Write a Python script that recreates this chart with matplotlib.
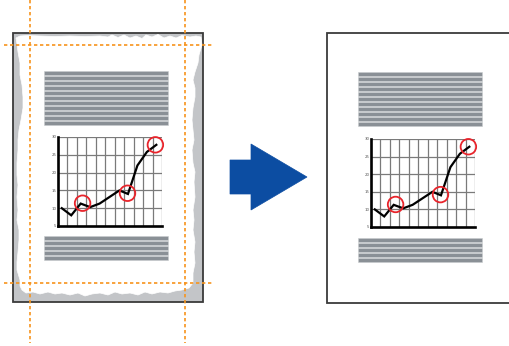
import matplotlib
matplotlib.use("Agg")
import matplotlib.pyplot as plt
from matplotlib.patches import Rectangle, Polygon

# ---- data ----
x_vals = [0.4, 1.4, 2.4, 3.4, 4.4, 6.5, 7.4, 8.4, 9.4, 10.4]
y_vals = [10, 8, 11.3, 10.3, 11.3, 15, 14, 22, 25.8, 27.8]
circle_x = [2.6, 7.35, 10.3]
circle_y = [11.4, 14.2, 27.8]
y_ticks = [5, 10, 15, 20, 25, 30]
y_tick_labels = ["5", "10", "15", "20", "25", "30"]
x_grid = list(range(0, 12))

W, H = 509, 346
fig = plt.figure(figsize=(W / 100, H / 100), dpi=100)
ax = fig.add_axes([0, 0, 1, 1])
ax.set_xlim(0, W)
ax.set_ylim(H, 0)
ax.axis("off")

GRAY_TXT = "#8a9096"
ORANGE = "#f7941d"
BLUE = "#0c4da2"

# ---- left page (torn) ----
ax.add_patch(Rectangle((13, 33), 190, 269, facecolor="#c3c5c8", edgecolor="#3a3a3a", lw=1.3, zorder=1))
torn = [
    # top edge, left -> right
    (16, 38), (20, 36), (28, 35.5), (40, 36), (55, 36.5), (70, 36), (85, 36.5), (100, 36),
    (108, 37), (112, 35), (118, 37.5), (124, 35), (130, 38), (136, 36), (142, 38.5), (146, 35),
    (152, 37), (158, 34.5), (164, 38), (170, 36), (176, 38), (182, 35.5), (190, 37), (196, 36),
    (201, 37),
    # right edge, top -> bottom
    (202, 45), (199, 55), (198, 63), (195, 72), (193, 80), (195, 88), (195, 97), (193, 108),
    (192, 120), (193, 130), (194, 140), (192, 150), (193, 163), (195, 172), (194, 182),
    (195, 197), (193, 210), (194, 220), (193, 230), (195, 242), (194, 252), (195, 263),
    (193, 273), (193, 283), (189, 288),
    # bottom edge, right -> left
    (182, 290), (175, 291), (168, 293), (160, 292), (152, 294), (145, 292), (138, 295),
    (130, 293), (122, 294), (115, 292), (108, 295), (100, 293), (92, 294), (85, 296),
    (78, 293), (70, 295), (62, 293), (55, 294), (48, 292), (40, 294), (33, 292), (26, 293),
    (22, 290), (20, 286),
    # left edge, bottom -> top
    (20, 280), (17, 270), (17, 262), (18, 252), (19, 240), (19, 230), (17, 220), (18, 210),
    (17, 197), (18, 185), (17, 175), (17, 163), (18, 150), (18, 140), (19, 130), (21, 120),
    (23, 108), (23, 97), (22, 85), (20, 75), (20, 63), (18, 52), (17, 44),
]
ax.add_patch(Polygon(torn, closed=True, facecolor="white", edgecolor="white", lw=0.5, zorder=2))

# ---- right page (clean) ----
ax.add_patch(Rectangle((327, 33), 200, 270, facecolor="white", edgecolor="#3a3a3a", lw=1.3, zorder=1))


def text_block(x0, x1, y0, n):
    for i in range(n):
        ax.add_patch(Rectangle((x0, y0 + 5 * i), x1 - x0, 3.6, facecolor=GRAY_TXT,
                               edgecolor="#c9ccce", lw=0.4, zorder=3))


def mini_chart(px0, px1, py_top, py_bot):
    a = fig.add_axes([px0 / W, 1 - py_bot / H, (px1 - px0) / W, (py_bot - py_top) / H])
    a.set_facecolor("none")
    a.set_xlim(0, 11)
    a.set_ylim(5, 30)
    for gx in x_grid[1:]:
        a.axvline(gx, color="#7a7a7a", lw=0.9, zorder=1)
    for gy in y_ticks[1:]:
        a.axhline(gy, color="#7a7a7a", lw=0.9, zorder=1)
    a.plot(x_vals, y_vals, color="black", lw=1.6, solid_joinstyle="miter", zorder=3)
    a.scatter(circle_x, circle_y, s=125, facecolors="none", edgecolors="#e8242b", lw=1.3,
              zorder=4, clip_on=False)
    for s in ["top", "right"]:
        a.spines[s].set_visible(False)
    a.spines["left"].set_linewidth(1.9)
    a.spines["bottom"].set_linewidth(1.9)
    a.set_xticks([])
    a.set_yticks(y_ticks)
    a.set_yticklabels(y_tick_labels, fontsize=2.8, color="#555555")
    a.tick_params(axis="y", length=0, pad=1)
    return a


# left page content
text_block(44, 168, 71, 11)
mini_chart(58, 162, 137, 226)
text_block(44, 168, 236, 5)

# right page content
text_block(358, 482, 72, 11)
mini_chart(371, 475, 139, 227)
text_block(358, 482, 238, 5)

# ---- orange crop guides ----
dash = (0, (2.0, 1.6))
for gx in [30, 185]:
    ax.plot([gx, gx], [0, 343], color=ORANGE, lw=1.2, linestyle=dash, zorder=5)
for gy in [45, 283]:
    ax.plot([4, 213], [gy, gy], color=ORANGE, lw=1.2, linestyle=dash, zorder=5)

# ---- arrow ----
arrow = [(230, 160), (251, 160), (251, 144), (307, 177), (251, 210), (251, 194), (230, 194)]
ax.add_patch(Polygon(arrow, closed=True, facecolor=BLUE, edgecolor=BLUE, lw=0.5, zorder=5))

fig.savefig("out.png", dpi=100)
